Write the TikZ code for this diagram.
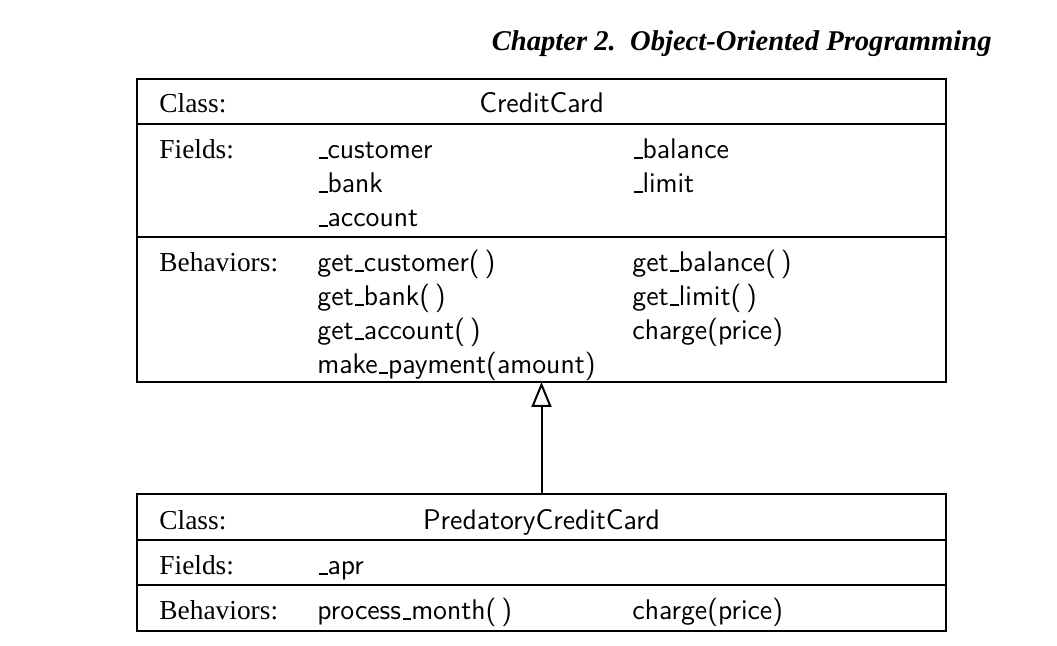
\documentclass[tikz,border=0pt]{standalone}
\usepackage{fontspec}
\setmainfont{Liberation Serif}
\usetikzlibrary{arrows.meta,positioning}
\newcommand{\usc}{\leavevmode\kern.06em\vbox{\hrule width.3em height.07em}}
\tikzset{
  rowbox/.style={rectangle, draw=black, line width=1pt, minimum width=404.5pt, inner sep=0pt, outer sep=0pt},
  lbl/.style={anchor=base west, inner sep=0pt, font=\fontsize{13.7}{16}\selectfont},
  mem/.style={anchor=base west, inner sep=0pt, font=\sffamily\fontsize{14.2}{16}\selectfont},
  inherit/.style={-{Triangle[open, length=12.5pt, width=10pt]}, line width=1pt},
}

\begin{document}
\begin{tikzpicture}[x=0.5pt, y=-0.5pt]
\useasboundingbox (0,0) rectangle (1057,646);
\node[font=\bfseries\itshape\fontsize{14.3}{16}\selectfont, anchor=base east, inner sep=0pt] (chap) at (992,51) {Chapter 2.\ \ Object-Oriented Programming};

% CreditCard
\node[rowbox, minimum height=22.5pt, anchor=north west] (cc1) at (137,79) {};
\node[rowbox, minimum height=56.5pt, below=0pt of cc1] (cc2) {};
\node[rowbox, minimum height=72.5pt, below=0pt of cc2] (cc3) {};
\node[lbl] (cclc) at (159,113) {Class:};
\node[mem, anchor=base] (ccname) at (541.5,113) {CreditCard};
\node[lbl] (cclf) at (159,159) {Fields:};
\foreach \t [count=\i from 0] in {\usc customer,\usc bank,\usc account}
  \node[mem] (ccfa\i) at (317,{159+34*\i}) {\t};
\foreach \t [count=\i from 0] in {\usc balance,\usc limit}
  \node[mem] (ccfb\i) at (632,{159+34*\i}) {\t};
\node[lbl] (cclb) at (159,272) {Behaviors:};
\foreach \t [count=\i from 0] in {get\usc customer(\,),get\usc bank(\,),get\usc account(\,),make\usc payment(amount)}
  \node[mem] (ccba\i) at (317,{272+34*\i}) {\t};
\foreach \t [count=\i from 0] in {get\usc balance(\,),get\usc limit(\,),charge(price)}
  \node[mem] (ccbb\i) at (632,{272+34*\i}) {\t};

% PredatoryCreditCard
\node[rowbox, minimum height=23pt, anchor=north west] (pcc1) at (137,494) {};
\node[rowbox, minimum height=22.5pt, below=0pt of pcc1] (pcc2) {};
\node[rowbox, minimum height=23pt, below=0pt of pcc2] (pcc3) {};
\node[lbl] (pcclc) at (159,530) {Class:};
\node[mem, anchor=base] (pccname) at (541.5,530) {PredatoryCreditCard};
\node[lbl] (pcclf) at (159,575) {Fields:};
\node[mem] (pccfa0) at (317,575) {\usc apr};
\node[lbl] (pcclb) at (159,620) {Behaviors:};
\node[mem] (pccba0) at (317,620) {process\usc month(\,)};
\node[mem] (pccbb0) at (632,620) {charge(price)};

\draw[inherit] (pcc1.north) -- (cc3.south);
\end{tikzpicture}
\end{document}
